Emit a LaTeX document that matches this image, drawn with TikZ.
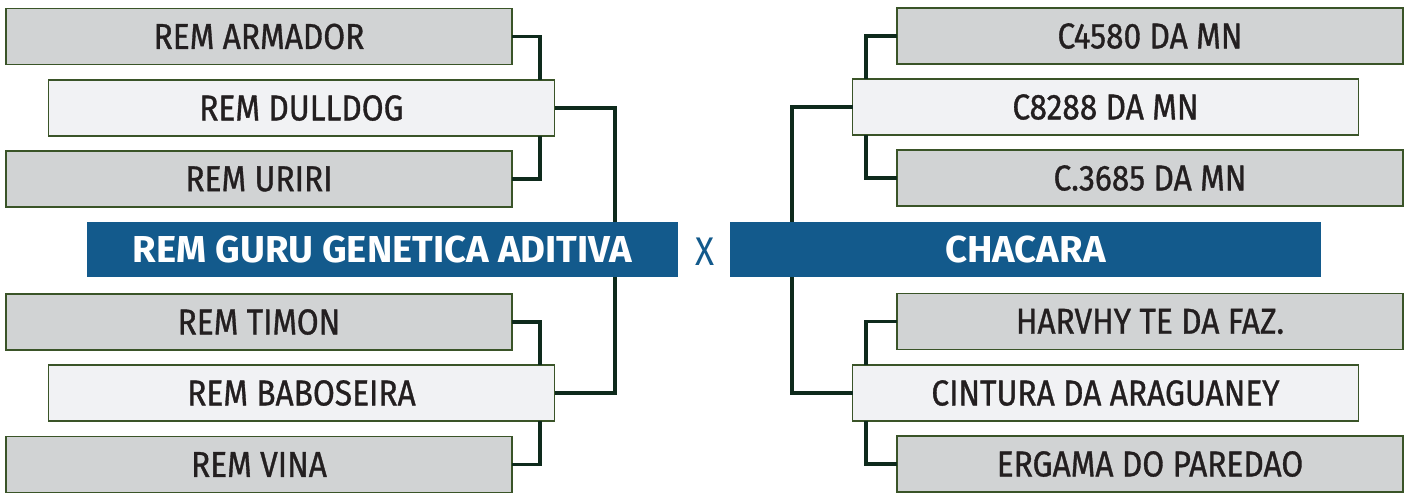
\documentclass[tikz,border=0pt]{standalone}
\usepackage{fontspec}
\setmainfont{Fira Sans}[FakeStretch=0.88]
\newfontfamily\entryfont{Fira Sans}[FakeStretch=0.88,FakeBold=0.9]
\newfontfamily\bandfont{Fira Sans}[FakeStretch=1.02]
\definecolor{boxgray}{HTML}{D1D3D4}
\definecolor{boxlight}{HTML}{F1F2F4}
\definecolor{boxedge}{HTML}{3A5428}
\definecolor{linkcol}{HTML}{0E2A1C}
\definecolor{bandblue}{HTML}{135A8C}
\definecolor{txt}{HTML}{231F20}
\tikzset{
  entry/.style={draw=boxedge, line width=1.8pt, minimum width=506pt, minimum height=56pt,
    inner sep=0pt, outer sep=0pt, text=txt, font=\entryfont\fontsize{36}{37}\selectfont},
  outer/.style={entry, fill=boxgray},
  inner/.style={entry, fill=boxlight},
  band/.style={fill=bandblue, minimum width=591pt, minimum height=55pt, inner sep=0pt,
    outer sep=0pt, text=white, font=\bandfont\fontsize{37.5}{38}\selectfont\bfseries},
  link/.style={draw=linkcol, line width=3.6pt}
}
\begin{document}
\begin{tikzpicture}[x=1pt,y=-1pt]
\useasboundingbox (0,0) rectangle (1407,493);
% left
\node[outer] (arm) at (259,36.5) {REM ARMADOR};
\node[inner] (dul) at (301.5,108) {REM DULLDOG};
\node[outer] (uri) at (259,179) {REM URIRI};
\node[outer] (tim) at (259,322) {REM TIMON};
\node[inner] (bab) at (301.5,393) {REM BABOSEIRA};
\node[outer] (vin) at (259,464.5) {REM VINA};
\node[band] (bl) at (382.5,249.5) {REM GURU GENETICA ADITIVA};
\node[text=bandblue, font=\fontsize{40}{40}\selectfont] (vs) at (705,252) {X};
\node[band] (br) at (1025.5,249.5) {CHACARA};
% right
\node[outer] (c1) at (1150,36) {C4580 DA MN};
\node[inner] (c2) at (1105.5,107) {C8288 DA MN};
\node[outer] (c3) at (1150,178) {C.3685 DA MN};
\node[outer] (h1) at (1150,321.5) {HARVHY TE DA FAZ.};
\node[inner] (h2) at (1105.5,393) {CINTURA DA ARAGUANEY};
\node[outer] (h3) at (1150,464) {ERGAMA DO PAREDAO};
% guide coordinates
\coordinate (lj) at (540,0);
\coordinate (lk) at (615,0);
\coordinate (rj) at (866,0);
\coordinate (rk) at (792,0);
% left links
\draw[link] (arm.east) -| (lj |- dul.north);
\draw[link] (uri.east) -| (lj |- dul.south);
\draw[link] (dul.east) -| (lk |- bl.north);
\draw[link] (tim.east) -| (lj |- bab.north);
\draw[link] (vin.east) -| (lj |- bab.south);
\draw[link] (lk |- bl.south) |- (bab.east);
% right links
\draw[link] (c1.west) -| (rj |- c2.north);
\draw[link] (c3.west) -| (rj |- c2.south);
\draw[link] (c2.west) -| (rk |- br.north);
\draw[link] (h1.west) -| (rj |- h2.north);
\draw[link] (h3.west) -| (rj |- h2.south);
\draw[link] (rk |- br.south) |- (h2.west);
\end{tikzpicture}
\end{document}
